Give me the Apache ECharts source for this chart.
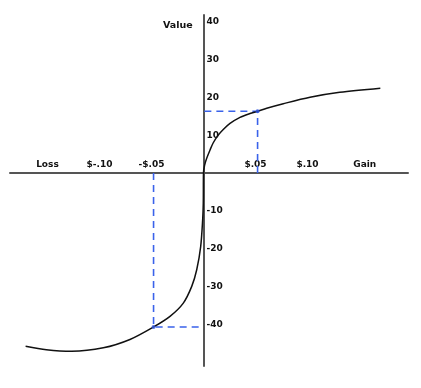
<!DOCTYPE html>
<html>
<head>
<meta charset="utf-8">
<script src="https://cdn.jsdelivr.net/npm/echarts@6/dist/echarts.min.js"></script>
<style>html,body{margin:0;padding:0;background:#fff;}#c{width:421px;height:388px;}</style>
</head>
<body>
<div id="c"></div>
<script>
// Value curve (gain/loss in $, value)
const curveX = [-0.171, -0.151, -0.1267, -0.0963, -0.0707, -0.048, -0.0322, -0.0194, -0.0113, -0.0065, -0.0027, -0.0008, -0.0002, 0, 0.0011, 0.0031, 0.0063, 0.0094, 0.0142, 0.019, 0.0255, 0.0351, 0.0447, 0.052, 0.0608, 0.0767, 0.1024, 0.131, 0.170];
const curveY = [-45.7, -46.6, -47.0, -46.1, -43.9, -40.6, -37.8, -34.3, -29.9, -25.5, -19.4, -12.4, -8.0, 0, 2.1, 3.9, 6.1, 8.0, 10.0, 11.5, 13.1, 14.7, 15.7, 16.3, 17.1, 18.3, 20.0, 21.3, 22.4];
// Highlighted points (dashed guides)
const gainPoint = [0.052, 16.3];
const lossPoint = [-0.048, -40.6];
// X axis labels
const xTickValues = [-0.15, -0.10, -0.05, 0.05, 0.10, 0.155];
const xTickLabels = ['Loss', '$-.10', '-$.05', '$.05', '$.10', 'Gain'];
// Y axis labels
const yTickValues = [-40, -30, -20, -10, 10, 20, 30, 40];
const yTitle = 'Value';

const font = 'DejaVu Sans';
const chart = echarts.init(document.getElementById('c'));
const guideStyle = {color: '#3a62ea', width: 1.6, type: [7, 5]};
const xMin = -0.186, xMax = 0.1966, yMin = -50.9, yMax = 41.7;
const gL = 10, gR = 13, gT = 15, gB = 22, W = 421, H = 388;
// axis offsets so lines and labels sit on the zero crossings
const yAxisOffset = -((W - gL - gR) * (0 - xMin) / (xMax - xMin));
const xAxisOffset = -((H - gT - gB) * (0 - yMin) / (yMax - yMin));
chart.setOption({
  animation: false,
  title: {text: yTitle, left: 163, top: 21, padding: 0,
    textStyle: {fontFamily: font, fontSize: 9.5, fontWeight: 'bold', color: '#111'}},
  grid: {left: gL, right: gR, top: gT, bottom: gB},
  xAxis: {
    type: 'value', min: xMin, max: xMax, position: 'bottom', offset: xAxisOffset,
    splitLine: {show: false},
    axisLine: {onZero: false, lineStyle: {color: '#555', width: 2}},
    axisTick: {show: false},
    axisLabel: {inside: true, margin: 4, customValues: xTickValues,
      fontFamily: font, fontSize: 9, fontWeight: 'bold', color: '#111',
      formatter: v => { const i = xTickValues.findIndex(t => Math.abs(t - v) < 1e-9); return i >= 0 ? xTickLabels[i] : ''; }}
  },
  yAxis: {
    type: 'value', min: yMin, max: yMax, position: 'left', offset: yAxisOffset,
    splitLine: {show: false},
    axisLine: {onZero: false, lineStyle: {color: '#555', width: 2}},
    axisTick: {show: false},
    axisLabel: {inside: true, margin: 3, customValues: yTickValues,
      fontFamily: font, fontSize: 9, fontWeight: 'bold', color: '#111',
      formatter: v => String(v)}
  },
  series: [
    {type: 'line', data: curveX.map((x, i) => [x, curveY[i]]), showSymbol: false,
      smooth: 0.3, lineStyle: {color: '#111', width: 1.5}, z: 3},
    {type: 'line', data: [[gainPoint[0], 0], gainPoint, [0, gainPoint[1]]], showSymbol: false,
      lineStyle: guideStyle, z: 2},
    {type: 'line', data: [[lossPoint[0], 0], lossPoint, [0, lossPoint[1]]], showSymbol: false,
      lineStyle: guideStyle, z: 2},
    {type: 'scatter', data: [gainPoint, lossPoint], symbolSize: 4,
      itemStyle: {color: '#2f55e0'}, z: 4}
  ]
});
</script>
</body>
</html>
